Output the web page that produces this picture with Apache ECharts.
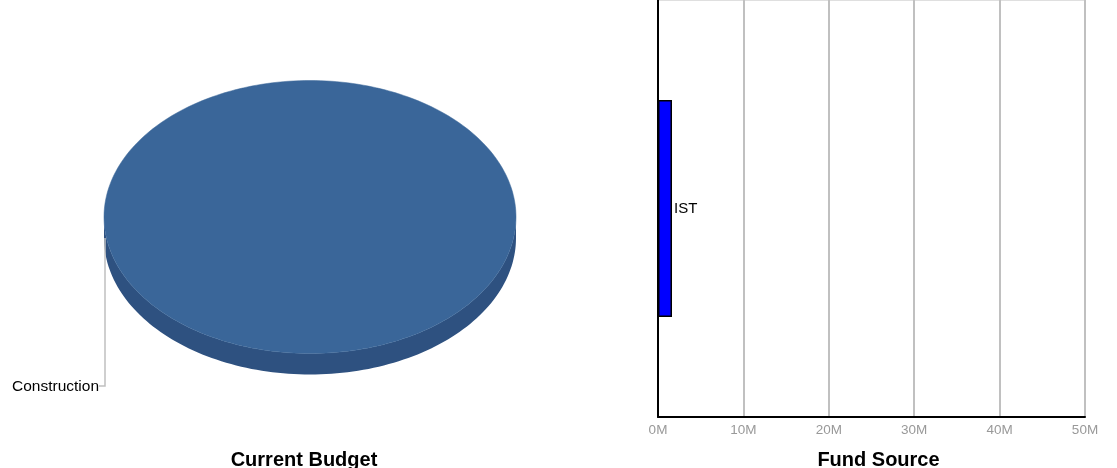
<!DOCTYPE html>
<html>
<head>
<meta charset="utf-8">
<script src="https://cdn.jsdelivr.net/npm/echarts@6/dist/echarts.min.js"></script>
<style>
html,body{margin:0;padding:0;background:#fff;}
#chart{width:1117px;height:468px;}
</style>
</head>
<body>
<div id="chart"></div>
<script>
// ---- data ----
var pieCategories = ['Construction'];
var pieValues = [1640000];
var pieColors = ['#3a6699'];
var pieSideColors = ['#2e5180'];

var fundCategories = ['IST'];
var fundValues = [1640000];

var xTicksMax = 50000000;
var xTickInterval = 10000000;

var chart = echarts.init(document.getElementById('chart'));

var FONT = 'Liberation Sans, Arial, sans-serif';

function pie3dRender(params, api) {
  var idx = params.dataIndex;
  if (idx !== 0) return;
  var cx = 310, cy = 217, rx = 206, ry = 136.5, depth = 21;
  var total = pieValues.reduce(function (a, b) { return a + b; }, 0);
  var start = -Math.PI / 2;
  var sides = [], tops = [], labels = [];
  for (var i = 0; i < pieValues.length; i++) {
    var frac = pieValues[i] / total;
    var end = start + frac * Math.PI * 2;
    var n = Math.max(4, Math.ceil(frac * 240));
    var topPts = [];
    if (frac < 1) topPts.push([cx, cy]);
    var arc = [];
    for (var k = 0; k <= n; k++) {
      var a = start + (end - start) * k / n;
      arc.push([cx + rx * Math.cos(a), cy + ry * Math.sin(a)]);
    }
    topPts = topPts.concat(arc);
    var front = arc.filter(function (p) { return p[1] >= cy - 0.01; });
    if (front.length) {
      var topEdge = front.slice();
      var bottom = front.slice().reverse().map(function (p) { return [p[0], p[1] + depth]; });
      sides.push({ type: 'polygon', shape: { points: topEdge.concat(bottom) }, style: { fill: pieSideColors[i % pieSideColors.length], stroke: null } });
    }
    tops.push({ type: 'polygon', shape: { points: topPts }, style: { fill: pieColors[i % pieColors.length], stroke: pieColors[i % pieColors.length], lineWidth: 0.5 } });
    var mid = (start + end) / 2;
    var lx, ly;
    if (frac >= 1) { lx = cx - rx + 1; ly = cy + 21; }
    else { lx = cx + rx * Math.cos(mid); ly = cy + ry * Math.sin(mid); }
    labels.push({ type: 'polyline', shape: { points: [[lx, ly], [lx, 386], [lx - 6, 386]] }, style: { stroke: '#c0c0c0', lineWidth: 1.5, fill: null } });
    labels.push({ type: 'text', style: { text: pieCategories[i], x: lx - 6, y: 386.5, align: 'right', verticalAlign: 'middle', fill: '#000', font: '15.5px ' + FONT } });
    start = end;
  }
  return { type: 'group', children: sides.concat(labels).concat(tops) };
}

var option = {
  backgroundColor: '#fff',
  animation: false,
  textStyle: { fontFamily: FONT },
  title: [
    { text: 'Current Budget', left: 304, top: 450, padding: 0, textAlign: 'center',
      textStyle: { fontSize: 20, fontWeight: 'bold', color: '#000', fontFamily: FONT, lineHeight: 20 } },
    { text: 'Fund Source', left: 878.5, top: 450, padding: 0, textAlign: 'center',
      textStyle: { fontSize: 20, fontWeight: 'bold', color: '#000', fontFamily: FONT, lineHeight: 20 } }
  ],
  grid: [{ left: 658, right: 32, top: 0, bottom: 51, show: true, borderColor: '#c0c0c0', borderWidth: 1, backgroundColor: 'transparent' }],
  xAxis: [{
    type: 'value', gridIndex: 0, min: 0, max: xTicksMax, interval: xTickInterval,
    axisLine: { show: true, lineStyle: { color: '#000', width: 2 } },
    axisTick: { show: false },
    splitLine: { show: true, lineStyle: { color: '#c0c0c0', width: 2 } },
    axisLabel: { color: '#999', fontSize: 13.5, fontFamily: FONT, margin: 6,
      formatter: function (v) { return (v / 1000000) + 'M'; } }
  }],
  yAxis: [{
    type: 'category', gridIndex: 0, data: fundCategories,
    axisLine: { show: true, lineStyle: { color: '#000', width: 2 } },
    axisTick: { show: false },
    axisLabel: { show: false },
    splitLine: { show: false }
  }],
  series: [
    {
      type: 'bar', xAxisIndex: 0, yAxisIndex: 0, data: fundValues,
      barWidth: '52%',
      itemStyle: { color: '#0000ff', borderColor: '#000', borderWidth: 1.5 },
      label: { show: true, position: 'right', distance: 2, color: '#000', fontSize: 15, fontFamily: FONT,
        formatter: function (p) { return p.name; } }
    },
    {
      type: 'custom', coordinateSystem: 'none',
      data: pieValues,
      renderItem: pie3dRender,
      silent: true
    }
  ]
};
chart.setOption(option);
</script>
</body>
</html>
